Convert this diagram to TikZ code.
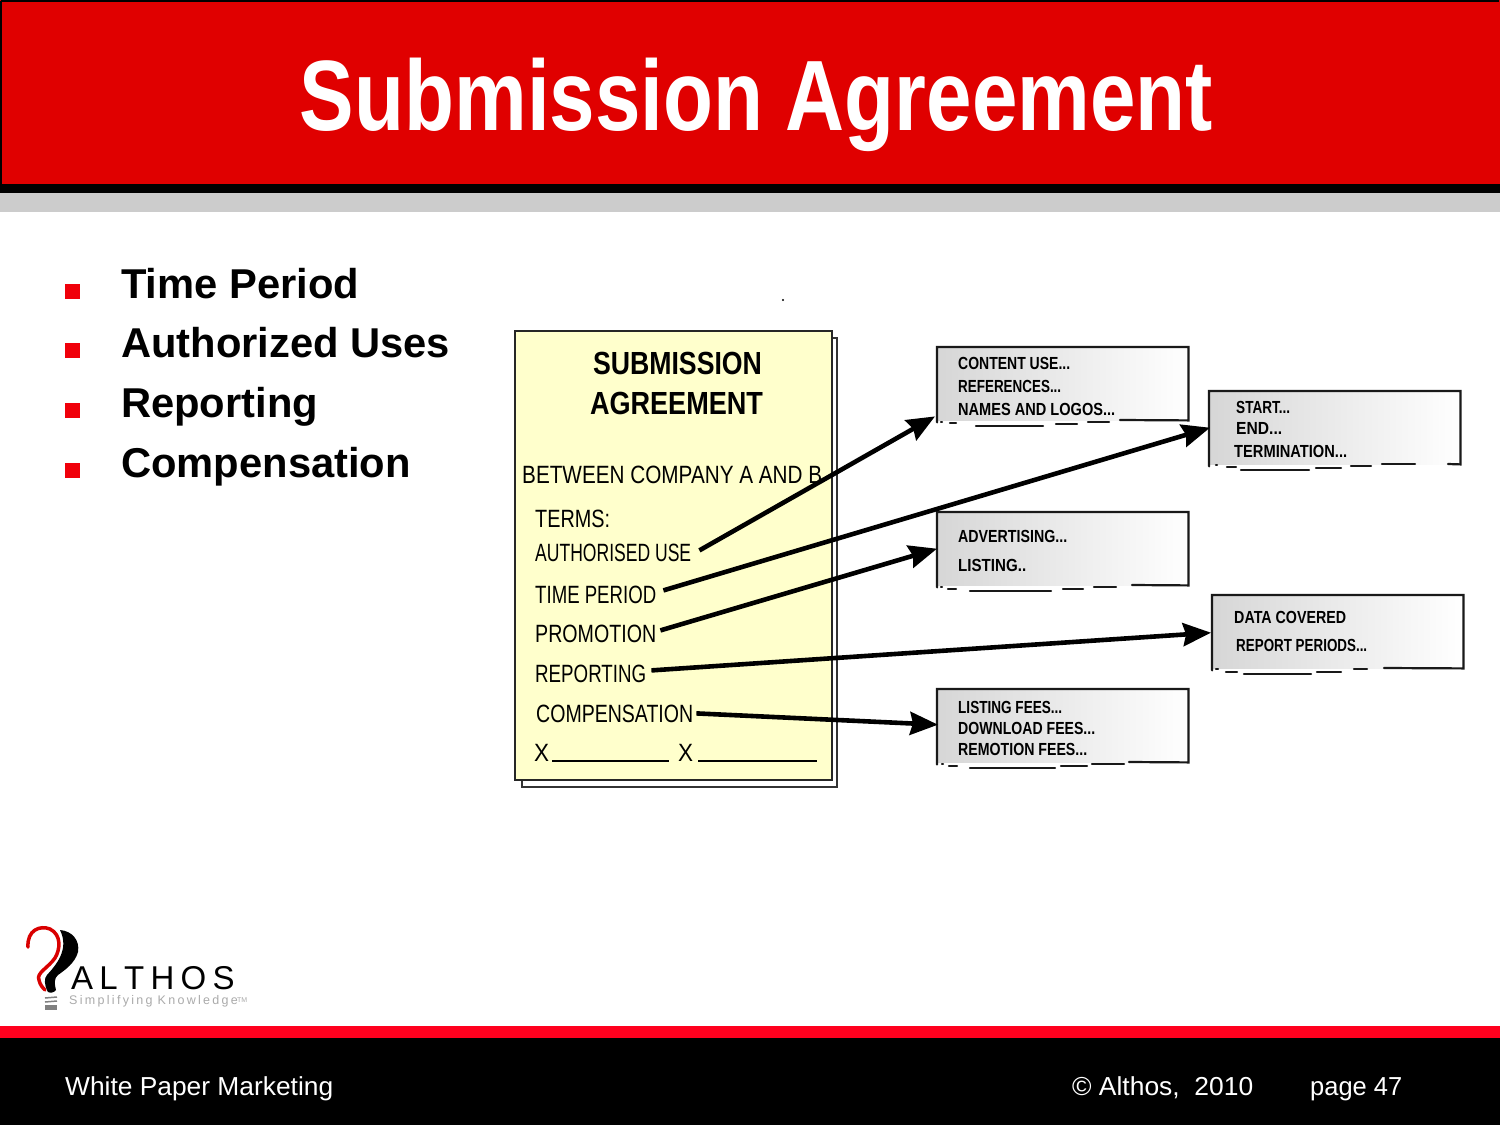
\documentclass[tikz,border=0pt]{standalone}
\usepackage{graphicx}
\usepackage{fontspec}
\setmainfont{Liberation Sans}
\usetikzlibrary{arrows.meta}
\definecolor{bannerred}{RGB}{224,0,0}
\definecolor{bulletred}{RGB}{240,0,10}
\definecolor{rulered}{RGB}{255,0,30}
\definecolor{bandgray}{RGB}{204,204,204}
\definecolor{paper}{RGB}{255,255,204}
\definecolor{logogray}{RGB}{170,170,170}
\newcommand{\wfit}[2]{\resizebox{#1pt}{\height}{#2}}
\tikzset{
  x=1pt,y=-1pt,
  bullettext/.style={anchor=base west,inner sep=0pt,font=\fontsize{41.7}{42}\selectfont\bfseries},
  footertext/.style={anchor=base west,inner sep=0pt,text=white,font=\fontsize{26}{26}\selectfont},
  docbig/.style={anchor=base,inner sep=0pt,font=\fontsize{32}{32}\selectfont\bfseries},
  doctext/.style={anchor=base west,inner sep=0pt,font=\fontsize{25}{25}\selectfont},
  boxtext/.style={anchor=base west,inner sep=0pt,font=\fontsize{17.5}{17.5}\selectfont\bfseries},
  link/.style={line width=4.6pt,-{Stealth[length=28pt,width=23pt,inset=3pt]}},
  boxedge/.style={line width=2.2pt,draw=black!90,line cap=round},
  slipbox/.style={anchor=north west,inner sep=0pt,minimum width=251pt,minimum height=73pt,left color=black!16,right color=white,draw=none},
}
% name, x0, y0, x at which the solid part of the bottom edge starts
\newcommand{\slip}[4]{%
  \node[slipbox] (#1) at (#2,#3) {};
  \draw[boxedge] (#1.south west) ++(0,2) -- (#1.north west) -- (#1.north east) -- (#1.south east) -- (#4,#3+73);
}
\begin{document}
\begin{tikzpicture}
\useasboundingbox (0,0) rectangle (1500,1125);
\fill[white] (0,0) rectangle (1500,1125);
% banner
\fill[bannerred] (0,0) rectangle (1500,184);
\draw[black,line width=1.5pt] (0.75,0.75) -- (1499.25,0.75);
\draw[black,line width=1.5pt] (0.75,0.75) -- (0.75,184);
\fill[black] (0,184) rectangle (1500,193);
\fill[bandgray] (0,193) rectangle (1500,212);
\node[anchor=base,inner sep=0pt,text=white,font=\fontsize{100}{100}\selectfont\bfseries] (title) at (756.5,130) {\wfit{913}{Submission Agreement}};
% bullets
\foreach \n/\y/\t in {a/299/Time Period,b/358/Authorized Uses,c/418/Reporting,d/478/Compensation}{
  \fill[bulletred] (65,\y-15) rectangle (80,\y);
  \node[bullettext] (bul\n) at (121,\y-1) {\t};
}
\fill[black] (783,300) circle (1.2);
% document
\fill[white,draw=black!80,line width=1.5pt] (522,338) rectangle (837,787);
\node[fill=paper,draw=black!85,line width=1.5pt,minimum width=317pt,minimum height=449pt,inner sep=0pt,anchor=north west] (doc) at (514,330) {};
\node[docbig] (d1) at (677.5,374) {\wfit{169}{SUBMISSION}};
\node[docbig] (d2) at (676.5,414) {\wfit{173}{AGREEMENT}};
\node[doctext] (d3) at (522,483) {\wfit{300}{BETWEEN COMPANY A AND B}};
\node[doctext] (d4) at (535,527) {\wfit{75}{TERMS:}};
\node[doctext] (d5) at (535,561) {\wfit{156}{AUTHORISED USE}};
\node[doctext] (d6) at (535,603) {\wfit{121}{TIME PERIOD}};
\node[doctext] (d7) at (535,642) {\wfit{121}{PROMOTION}};
\node[doctext] (d8) at (535,682) {\wfit{111}{REPORTING}};
\node[doctext] (d9) at (536,722) {\wfit{157}{COMPENSATION}};
\node[doctext] (x1) at (534,761) {\wfit{15}{X}};
\node[doctext] (x2) at (678,761) {\wfit{15}{X}};
\draw[line width=2.5pt] (552,761) -- (669,761) (698,761) -- (817,761);
% boxes
\slip{b1}{937}{347}{1120}
\draw[boxedge] (941,422) -- (942,422) (950,423) -- (956,423) (976,426) -- (1043,426) (1056,424) -- (1077,424) (1088,422) -- (1109,422);
\slip{b2}{1209}{391}{1448}
\draw[boxedge] (1216,465) -- (1217,465) (1227,467) -- (1236,467) (1241,470) -- (1309,470) (1316,468) -- (1341,468) (1351,466) -- (1371,466) (1382,464) -- (1415,464);
\slip{b3}{937}{512}{1132}
\draw[boxedge] (941,587) -- (942,587) (948,589) -- (956,589) (970,591) -- (1051,591) (1063,589) -- (1083,589) (1094,587) -- (1116,587);
\slip{b4}{1212}{595}{1384}
\draw[boxedge] (1216,669) -- (1218,669) (1226,672) -- (1237,672) (1244,674) -- (1311,674) (1317,672) -- (1341,672) (1354,669) -- (1367,669);
\slip{b5}{937}{689}{1129}
\draw[boxedge] (942,764) -- (943,764) (949,766) -- (957,766) (970,768) -- (1055,768) (1061,766) -- (1087,766) (1092,764) -- (1124,764);
\node[boxtext] (t11) at (958,369) {\wfit{112}{CONTENT USE...}};
\node[boxtext] (t12) at (958,392) {\wfit{103}{REFERENCES...}};
\node[boxtext] (t13) at (958,415) {\wfit{157}{NAMES AND LOGOS...}};
\node[boxtext] (t21) at (1236,413) {\wfit{54}{START...}};
\node[boxtext] (t22) at (1236,434) {\wfit{46}{END...}};
\node[boxtext] (t23) at (1234,457) {\wfit{113}{TERMINATION...}};
\node[boxtext] (t31) at (958,542) {\wfit{109}{ADVERTISING...}};
\node[boxtext] (t32) at (958,571) {\wfit{68}{LISTING..}};
\node[boxtext] (t41) at (1234,623) {\wfit{112}{DATA COVERED}};
\node[boxtext] (t42) at (1236,651) {\wfit{131}{REPORT PERIODS...}};
\node[boxtext] (t51) at (958,713) {\wfit{104}{LISTING FEES...}};
\node[boxtext] (t52) at (958,734) {\wfit{137}{DOWNLOAD FEES...}};
\node[boxtext] (t53) at (958,755) {\wfit{129}{REMOTION FEES...}};
% connectors
\draw[link] ([shift={(8,-2)}]d5.east) -- ([shift={(-2,-4)}]b1.south west);
\draw[link] ([shift={(7,-4)}]d6.east) -- ([shift={(1,0)}]b2.west);
\draw[link] ([shift={(4,-3)}]d7.east) -- (b3.west);
\draw[link] ([shift={(5,-3)}]d8.east) -- ([shift={(-1,1)}]b4.west);
\draw[link] ([shift={(3,0)}]d9.east) -- ([shift={(1,-1)}]b5.west);
% logo
\draw[red!85!black,line width=3.5pt,line cap=round] (28,947) .. controls (27,930) and (40,925) .. (50,929) .. controls (62,935) and (60,950) .. (55,958) .. controls (48,968) and (36,973) .. (39,980) .. controls (40,985) and (43,988) .. (45,990);
\fill[black] (60,930) .. controls (72,931) and (80,940) .. (78,952) .. controls (75,963) and (65,970) .. (58,975) .. controls (53,980) and (55,985) .. (56,990) .. controls (54,993) and (50,993) .. (48,992) .. controls (44,985) and (44,978) .. (47,975) .. controls (55,966) and (70,950) .. (60,930) -- cycle;
\draw[gray,line width=1.5pt] (45,998) -- (57,997) (45,1002) -- (57,1001);
\fill[gray] (45,1005) rectangle (57,1010);
\node[anchor=base west,inner sep=0pt,font=\fontsize{33}{33}\selectfont] (alt) at (71,989) {A\hspace{6.3pt}L\hspace{6.3pt}T\hspace{6.3pt}H\hspace{6.3pt}O\hspace{6.3pt}S};
\node[anchor=base west,inner sep=0pt,text=logogray,font=\fontsize{12.5}{13}\selectfont] (slog) at (69,1004) {S\hspace{2.3pt}i\hspace{2.3pt}m\hspace{2.3pt}p\hspace{2.3pt}l\hspace{2.3pt}i\hspace{2.3pt}f\hspace{2.3pt}y\hspace{2.3pt}i\hspace{2.3pt}n\hspace{2.3pt}g\hspace{5pt}K\hspace{2.3pt}n\hspace{2.3pt}o\hspace{2.3pt}w\hspace{2.3pt}l\hspace{2.3pt}e\hspace{2.3pt}d\hspace{2.3pt}g\hspace{2.3pt}e};
\node[anchor=base west,inner sep=0pt,text=logogray,font=\fontsize{7}{7}\selectfont] (tm) at (237,1002) {TM};
% footer
\fill[rulered] (0,1026) rectangle (1500,1038);
\fill[black] (0,1038) rectangle (1500,1125);
\node[footertext] (f1) at (65,1095) {\wfit{268}{White Paper Marketing}};
\node[footertext] (f2) at (1072,1095) {\wfit{181}{© Althos,\ \ 2010}};
\node[footertext] (f3) at (1310,1095) {\wfit{92}{page 47}};
\end{tikzpicture}
\end{document}
